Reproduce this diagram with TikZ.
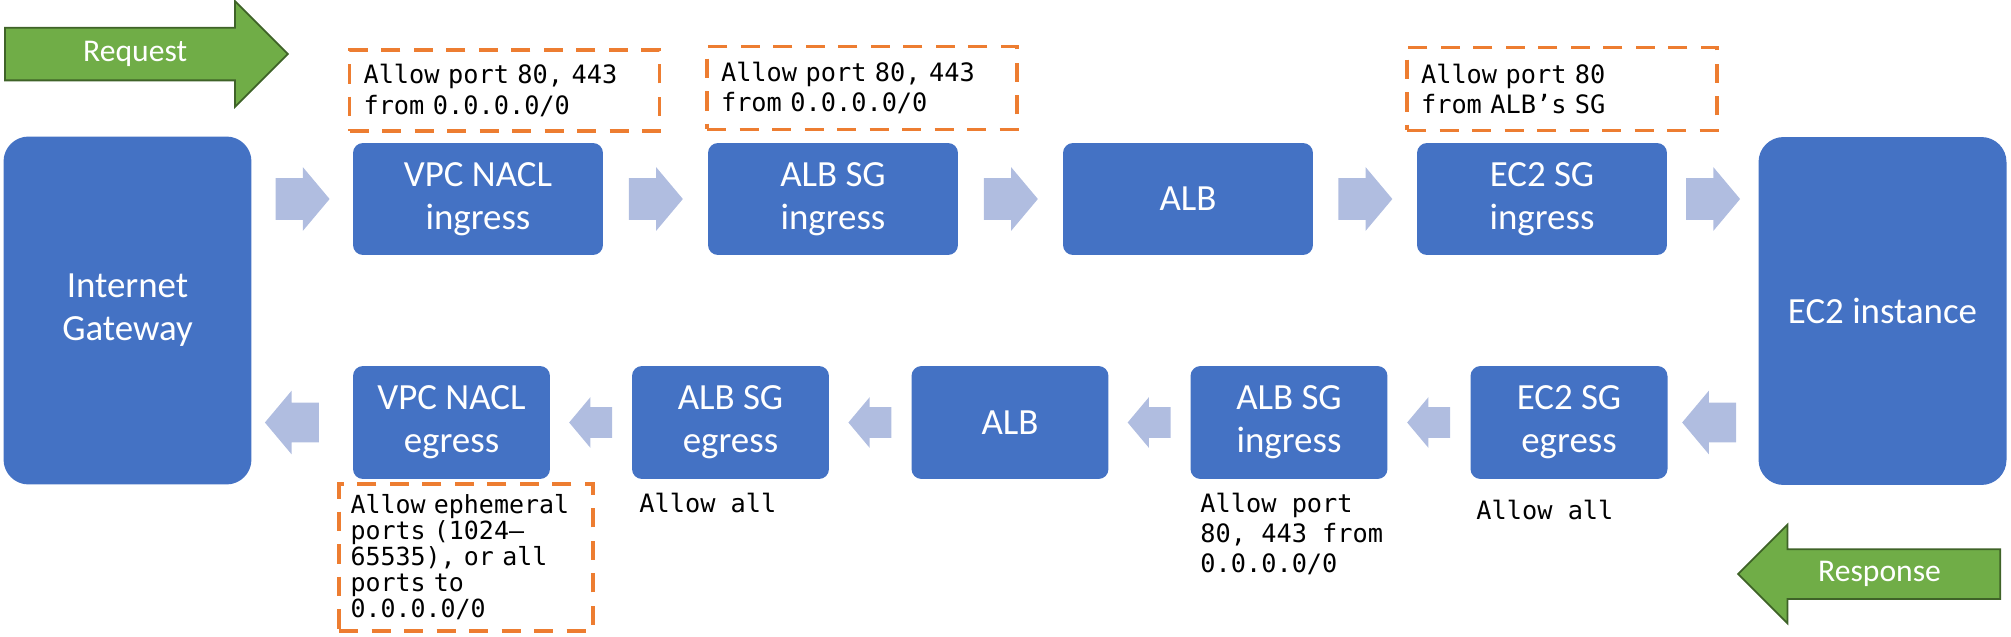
\documentclass[tikz,border=0pt]{standalone}
\usepackage{fontspec}
\setmainfont{Carlito}
\setmonofont{DejaVu Sans Mono}[WordSpace={1,0,0}]
\usetikzlibrary{calc}
\usetikzlibrary{shapes.arrows}
\definecolor{boxblue}{HTML}{4472C4}
\definecolor{flowblue}{HTML}{B0BDE0}
\definecolor{arrowgreen}{HTML}{70AD47}
\definecolor{arrowedge}{HTML}{3F6328}
\definecolor{ruleorange}{HTML}{ED7D31}
\tikzstyle{stage}=[rectangle,rounded corners=0.2cm,fill=boxblue,text=white,align=center,inner sep=0pt,minimum width=5cm,minimum height=2.24cm,font=\fontsize{21}{24.5}\selectfont]
\tikzstyle{endpoint}=[stage,rounded corners=0.5cm,minimum width=4.96cm,minimum height=6.96cm]
\tikzstyle{retstage}=[stage,minimum width=3.94cm,minimum height=2.26cm]
\tikzstyle{rulebox}=[draw=ruleorange,line width=2.2pt,dash pattern=on 11pt off 7.5pt,align=left,inner ysep=0pt,inner xsep=0.28cm,font=\ttfamily\fontsize{14.4}{17.6}\selectfont]
\tikzstyle{ruletext}=[align=left,inner sep=0pt,anchor=north west,font=\ttfamily\fontsize{14.4}{17}\selectfont]
\tikzstyle{fwdarrow}=[single arrow,fill=flowblue,inner xsep=0pt,inner ysep=0.41cm,anchor=tail,minimum height=1.08cm,minimum width=1.26cm,single arrow head extend=0.22cm,single arrow tip angle=100]
\tikzstyle{retarrow}=[fwdarrow,shape border rotate=180,inner ysep=0.39cm,single arrow head extend=0.24cm]
\tikzstyle{retsmall}=[retarrow,minimum height=0.86cm,minimum width=1cm,inner ysep=0.3cm,single arrow head extend=0.2cm]
\tikzstyle{bigarrow}=[single arrow,fill=arrowgreen,draw=arrowedge,line width=1pt,inner xsep=0pt,anchor=tail,single arrow tip angle=90]
\tikzstyle{arrowtext}=[text=white,font=\fontsize{18}{20}\selectfont]

\begin{document}
\begin{tikzpicture}[x=0.02cm,y=-0.02cm]
\useasboundingbox (0,0) rectangle (2011,636);

% end points
\node[endpoint] (ig) at (127.5,310.5) {Internet\\Gateway};
\node[endpoint] (ec2) at (1882.5,311) {EC2 instance};

% request row
\node[stage] (vpcin) at (478,199) {VPC NACL\\ingress};
\node[stage] (albsgin) at (833,199) {ALB SG\\ingress};
\node[stage] (albin) at (1188,199) {ALB};
\node[stage] (ec2sgin) at (1542,199) {EC2 SG\\ingress};

% response row
\node[retstage] (vpcout) at (451.5,422.5) {VPC NACL\\egress};
\node[retstage] (albsgout) at (730.5,422.5) {ALB SG\\egress};
\node[retstage] (albout) at (1010,422.5) {ALB};
\node[retstage] (albsgret) at (1289,422.5) {ALB SG\\ingress};
\node[retstage] (ec2sgout) at (1569,422.5) {EC2 SG\\egress};

% rules
\node[rulebox,text width=5.64cm,minimum height=1.62cm] (r1) at (504.5,90.5) {Allow port 80, 443\\from 0.0.0.0/0};
\node[rulebox,text width=5.64cm,minimum height=1.66cm] (r2) at (862,88) {Allow port 80, 443\\from 0.0.0.0/0};
\node[rulebox,text width=5.64cm,minimum height=1.66cm] (r3) at (1562,89) {Allow port 80\\from ALB’s SG};
\node[rulebox,text width=4.62cm,inner xsep=0.23cm,minimum height=2.94cm,font=\ttfamily\fontsize{14.2}{14.8}\selectfont] (r4) at (466,557.5) {Allow ephemeral\\ports (1024–\\65535), or all\\ports to\\0.0.0.0/0};
\node[ruletext] (t1) at (639,493) {Allow all};
\node[ruletext] (t2) at (1200,493) {Allow port\\80, 443 from\\0.0.0.0/0};
\node[ruletext] (t3) at (1476,500) {Allow all};

% flow arrows
\node[fwdarrow] (f1) at ($(ig.east |- vpcin)!0.5!(vpcin.west)$) [xshift=-0.54cm] {};
\node[fwdarrow] (f2) at ($(vpcin.east)!0.5!(albsgin.west)$) [xshift=-0.54cm] {};
\node[fwdarrow] (f3) at ($(albsgin.east)!0.5!(albin.west)$) [xshift=-0.54cm] {};
\node[fwdarrow] (f4) at ($(albin.east)!0.5!(ec2sgin.west)$) [xshift=-0.54cm] {};
\node[fwdarrow] (f5) at ($(ec2sgin.east)!0.5!(ec2.west |- ec2sgin)$) [xshift=-0.54cm] {};
\node[retarrow] (b1) at ($(ec2sgout.east)!0.5!(ec2.west |- ec2sgout)$) [xshift=0.47cm] {};
\node[retsmall] (b2) at ($(albsgret.east)!0.5!(ec2sgout.west)$) [xshift=0.43cm] {};
\node[retsmall] (b3) at ($(albout.east)!0.5!(albsgret.west)$) [xshift=0.43cm] {};
\node[retsmall] (b4) at ($(albsgout.east)!0.5!(albout.west)$) [xshift=0.43cm] {};
\node[retsmall] (b5) at ($(vpcout.east)!0.5!(albsgout.west)$) [xshift=0.43cm] {};
\node[retarrow] (b6) at ($(ig.east |- vpcout)!0.5!(vpcout.west)$) [xshift=0.34cm] {};

% request and response
\node[bigarrow,inner ysep=0.51cm,minimum height=5.66cm,minimum width=2.08cm,single arrow head extend=0.53cm] (req) at (4,54) {};
\node[arrowtext] (reqtext) at ($(req.tail)!0.46!(req.tip)$) {Request};
\node[bigarrow,shape border rotate=180,inner ysep=0.48cm,minimum height=5.24cm,minimum width=1.94cm,single arrow head extend=0.49cm] (resp) at (2001,574) {};
\node[arrowtext] (resptext) at ($(resp.tail)!0.46!(resp.tip)$) {Response};
\end{tikzpicture}
\end{document}
